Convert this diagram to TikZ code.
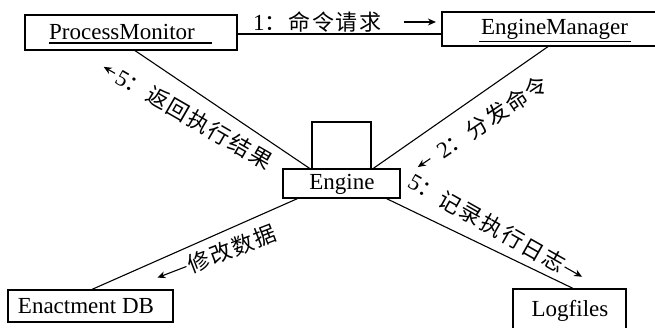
\documentclass[tikz,border=0pt]{standalone}
\usepackage{fontspec}
\setmainfont{Liberation Serif}
\newfontfamily\cjkfont[LetterSpace=8]{Noto Sans CJK SC}
\newcommand{\zhtxt}[1]{{\fontsize{22}{24}\selectfont\cjkfont #1}}
\usetikzlibrary{calc,arrows.meta}
\begin{document}
\begin{tikzpicture}[x=1pt,y=-1pt,
  box/.style={draw,line width=1.2pt,inner sep=0pt},
  objname/.style={font=\fontsize{23}{26}\selectfont,inner sep=0pt,anchor=base},
  lbl/.style={font=\fontsize{23}{26}\selectfont,inner sep=0pt},
  conn/.style={line width=1.1pt},
  arr/.style={line width=1.1pt,-{Stealth[length=8pt,width=7pt]}}]
\fill[white] (0,0) rectangle (655,328);
\useasboundingbox (0,0) rectangle (655,328);

% boxes
\node[box,minimum width=212pt,minimum height=35pt] (pm) at (131,32.5) {};
\node[objname] (pmt) at (122,39.5) {ProcessMonitor};
\draw[conn] ([yshift=-3.5pt]pmt.base west) -- ([yshift=-3.5pt,xshift=17pt]pmt.base east);

\node[box,minimum width=218pt,minimum height=34pt] (em) at (551,29) {};
\node[objname] (emt) at (554.5,34.5) {EngineManager};
\draw[conn] ([yshift=-7pt,xshift=-2pt]emt.base west) -- ([yshift=-7pt,xshift=3pt]emt.base east);

\node[box,minimum width=117pt,minimum height=29pt] (eng) at (341.5,183.5) {};
\node[box,minimum width=59pt,minimum height=47pt] (engtop) at (341.5,145.5) {};
\node[objname] (engt) at (342,190) {Engine};

\node[box,minimum width=165pt,minimum height=32pt] (db) at (90.5,306) {};
\node[objname] (dbt) at (86,313) {Enactment DB};

\node[box,minimum width=113pt,minimum height=43pt] (log) at (569.5,310.5) {};
\node[objname] (logt) at (570,316.5) {Logfiles};

% connectors
\draw[conn] ([yshift=-1.5pt]pm.east) -- ([yshift=-1.5pt]pm.east -| em.west);
\draw[conn] ([xshift=4pt]pm.south) -- (engtop.south west);
\draw[conn] ([xshift=-3pt]em.south) -- (engtop.south east);
\draw[conn] ([xshift=-44pt]eng.south) -- ([xshift=1.5pt]db.north);
\draw[conn] ([xshift=45pt]eng.south) -- ([xshift=3.5pt]log.north);

% labels
\node[lbl,anchor=west] (t1) at (253,22) {1\zhtxt{：命令请求}};
\draw[arr] ([xshift=22pt]t1.east) -- ([xshift=54pt]t1.east);

\node[lbl,rotate=-30] (tA) at (194,119) {5\zhtxt{：返回执行结果}};
\draw[arr] ($(tA.west)!-3pt!(tA.east)$) -- ($(tA.west)!-16pt!(tA.east)$);

\node[lbl,rotate=34] (tB) at (492,117) {2\zhtxt{：分发命令}};
\draw[arr] ($(tB.west)!-10pt!(tB.east)$) -- ($(tB.west)!-25pt!(tB.east)$);

\node[lbl,rotate=21] (tC) at (232,249) {\zhtxt{修改数据}};
\draw[arr] ($(tC.west)!-2pt!(tC.east)$) -- ($(tC.west)!-33pt!(tC.east)$);

\node[lbl,rotate=-29.5] (tD) at (487,223) {5\zhtxt{：记录执行日志}};
\draw[arr] ($(tD.east)!-1pt!(tD.west)$) -- ($(tD.east)!-21pt!(tD.west)$);
\end{tikzpicture}
\end{document}
